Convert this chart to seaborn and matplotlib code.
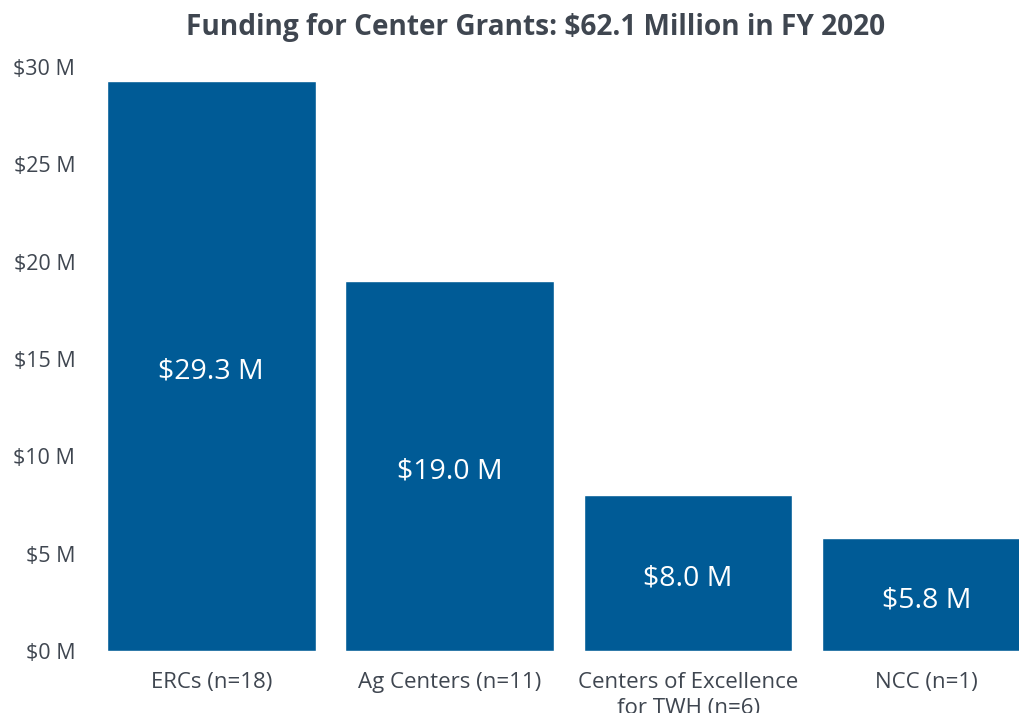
import matplotlib
matplotlib.use("Agg")
import matplotlib.pyplot as plt
import pandas as pd
import seaborn as sns

categories = ["ERCs (n=18)", "Ag Centers (n=11)", "Centers of Excellence\nfor TWH (n=6)", "NCC (n=1)"]
funding = [29.3, 19.0, 8.0, 5.8]
value_labels = ["$29.3 M", "$19.0 M", "$8.0 M", "$5.8 M"]
y_ticks = [0, 5, 10, 15, 20, 25, 30]
y_tick_labels = ["$0 M", "$5 M", "$10 M", "$15 M", "$20 M", "$25 M", "$30 M"]

BAR = "#005b96"
TEXT = "#3f4650"

sns.set_theme(style="white")
plt.rcParams["font.family"] = ["Open Sans", "DejaVu Sans"]

df = pd.DataFrame({"category": categories, "funding": funding})

fig = plt.figure(figsize=(10.2, 7.13), dpi=100)
ax = fig.add_axes([0.0902, 0.087, 0.935, 0.819])
sns.barplot(data=df, x="category", y="funding", color=BAR, saturation=1, width=0.876, ax=ax)

ax.set_xlim(-0.5, 3.5)
ax.set_ylim(0, 30)
ax.set_yticks(y_ticks)
ax.set_yticklabels(y_tick_labels, fontsize=15.5, color=TEXT)
ax.tick_params(axis="x", labelsize=16, labelcolor=TEXT, length=0, pad=15)
ax.tick_params(axis="y", length=0, pad=12)
for lbl in ax.get_xticklabels():
    lbl.set_linespacing(1.3)
ax.set_xlabel("")
ax.set_ylabel("")
sns.despine(ax=ax, left=True, bottom=True)

for i, (v, txt) in enumerate(zip(funding, value_labels)):
    ax.text(i, v / 2 - 0.3, txt, ha="center", va="center", color="white", fontsize=20.5)

fig.text(0.525, 0.962, "Funding for Center Grants: $62.1 Million in FY 2020",
         ha="center", va="center", fontsize=20.2, fontweight="bold", color=TEXT)

fig.savefig("out.png", dpi=100)
